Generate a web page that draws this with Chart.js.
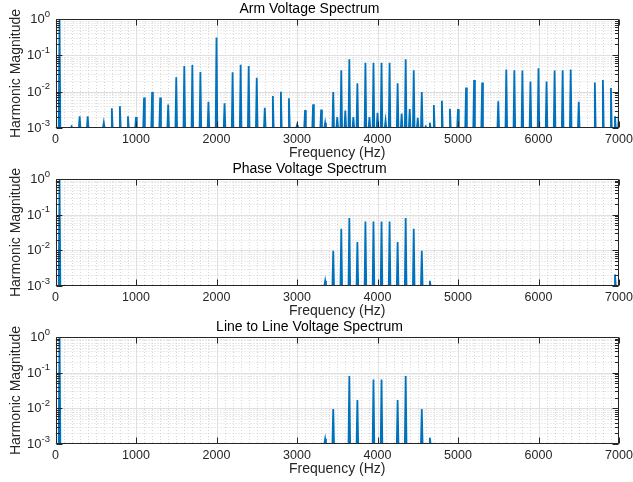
<!DOCTYPE html>
<html>
<head>
<meta charset="utf-8">
<script src="https://cdn.jsdelivr.net/npm/chart.js@4.4.1/dist/chart.umd.min.js"></script>
<style>
    html, body { margin: 0; padding: 0; background: #ffffff; }
    #Figure { position: relative; width: 633px; height: 482px; overflow: hidden; }
    canvas { position: absolute; left: 0; }
</style>
</head>
<body>
<div id="Figure">
    <canvas id="ArmCanvas"   width="633" height="162" style="top:0px"></canvas>
    <canvas id="PhaseCanvas" width="633" height="160" style="top:160px"></canvas>
    <canvas id="LineCanvas"  width="633" height="160" style="top:318px"></canvas>
</div>
<script>
// Axis ticks
const xTickValues    = [0, 1000, 2000, 3000, 4000, 5000, 6000, 7000];
const xTickLabels    = ['0', '1000', '2000', '3000', '4000', '5000', '6000', '7000'];
const yTickValues    = [0.001, 0.01, 0.1, 1];
const yTickBase      = '10';
const yTickExponents = ['-3', '-2', '-1', '0'];

// Arm voltage spectrum (Hz / magnitude)
const armFrequencies = [50, 200, 300, 400, 600, 700, 800, 900, 1000, 1100, 1200, 1300, 1400, 1500, 1600, 1700, 1800, 1900,
    2000, 2100, 2200, 2300, 2400, 2500, 2600, 2700, 2800, 2900, 3000, 3100, 3200, 3300, 3350, 3450, 3500, 3550, 3600,
    3650, 3700, 3750, 3850, 3900, 3950, 4000, 4050, 4100, 4150, 4250, 4300, 4350, 4400, 4450, 4500, 4550, 4600, 4650,
    4700, 4800, 4900, 5000, 5100, 5200, 5300, 5500, 5600, 5700, 5800, 5900, 6000, 6100, 6200, 6300, 6400, 6500, 6700,
    6800, 6900, 6950, 7000];
const armMagnitudes  = [1, 0.0011, 0.0021, 0.0021, 0.0014, 0.0035, 0.004, 0.0021, 0.002, 0.0069, 0.0098, 0.0069, 0.0044, 0.025, 0.051, 0.054, 0.035, 0.0053,
    0.31, 0.0048, 0.034, 0.055, 0.051, 0.024, 0.0036, 0.0076, 0.010, 0.0066, 0.0012, 0.0031, 0.0045, 0.0032, 0.0014, 0.0098, 0.002, 0.039, 0.003,
    0.078, 0.002, 0.017, 0.062, 0.002, 0.062, 0.0026, 0.062, 0.0016, 0.062, 0.017, 0.0025, 0.078, 0.0033, 0.039, 0.0019, 0.0098, 0.0011, 0.0014,
    0.0043, 0.0056, 0.0034, 0.0033, 0.013, 0.021, 0.018, 0.0054, 0.041, 0.039, 0.038, 0.019, 0.044, 0.019, 0.038, 0.039, 0.041, 0.0053, 0.018,
    0.021, 0.0127, 0.0021, 0.003];

// Phase voltage spectrum
const phaseFrequencies = [50, 3350, 3450, 3550, 3650, 3750, 3850, 3950, 4050, 4150, 4250, 4350, 4450, 4550, 4650, 6950];
const phaseMagnitudes  = [1, 0.0014, 0.0098, 0.040, 0.080, 0.017, 0.064, 0.064, 0.064, 0.064, 0.017, 0.080, 0.040, 0.0098, 0.0014, 0.0021];

// Line to line voltage spectrum
const lineFrequencies = [50, 3350, 3450, 3650, 3750, 3950, 4050, 4250, 4350, 4550, 4650];
const lineMagnitudes  = [1.73, 0.0014, 0.0095, 0.080, 0.017, 0.064, 0.064, 0.017, 0.080, 0.0095, 0.0015];

const floorLevel      = 0.001;   // spectrum floor sits on the bottom of the log axis
const spikeHalfWidth  = 10;      // Hz, one FFT bin on each side of a harmonic
const minorGridStep   = 100;     // Hz

const fontFamily = '"Liberation Sans", Arial, Helvetica, sans-serif';
const lineColor  = '#0072BD';
const axisColor  = '#262626';

function BuildSpectrum(frequencies, magnitudes)
{
    // Each harmonic becomes a narrow spike standing on the floor line
    const points = [{x: xTickValues[0], y: floorLevel}];
    for (let i = 0; i < frequencies.length; i++)
    {
        points.push({x: frequencies[i] - spikeHalfWidth, y: floorLevel});
        points.push({x: frequencies[i],                  y: magnitudes[i]});
        points.push({x: frequencies[i] + spikeHalfWidth, y: floorLevel});
    }
    points.push({x: xTickValues[xTickValues.length - 1], y: floorLevel});
    return points.sort((a, b) => a.x - b.x);
}

const FramePlugin =
{
    id: 'matlabFrame',
    beforeDatasetsDraw(chart)
    {
        const ctx   = chart.ctx;
        const area  = chart.chartArea;
        const xs    = chart.scales.x;
        const ys    = chart.scales.y;
        const xMin  = xTickValues[0];
        const xMax  = xTickValues[xTickValues.length - 1];

        ctx.save();
        ctx.lineWidth = 1;

        // minor grid, dotted
        ctx.strokeStyle = '#d6d6d6';
        ctx.setLineDash([1, 2]);
        ctx.beginPath();
        for (let f = xMin + minorGridStep; f < xMax; f += minorGridStep)
        {
            if (xTickValues.includes(f)) continue;
            const px = Math.round(xs.getPixelForValue(f)) + 0.5;
            ctx.moveTo(px, area.top);
            ctx.lineTo(px, area.bottom);
        }
        for (let d = 0; d < yTickValues.length - 1; d++)
        {
            for (let k = 2; k <= 9; k++)
            {
                const py = Math.round(ys.getPixelForValue(yTickValues[d] * k)) + 0.5;
                ctx.moveTo(area.left, py);
                ctx.lineTo(area.right, py);
            }
        }
        ctx.stroke();

        // major grid
        ctx.setLineDash([]);
        ctx.strokeStyle = '#e0e0e0';
        ctx.beginPath();
        xTickValues.slice(1, -1).forEach(v =>
        {
            const px = Math.round(xs.getPixelForValue(v)) + 0.5;
            ctx.moveTo(px, area.top);
            ctx.lineTo(px, area.bottom);
        });
        yTickValues.slice(1, -1).forEach(v =>
        {
            const py = Math.round(ys.getPixelForValue(v)) + 0.5;
            ctx.moveTo(area.left, py);
            ctx.lineTo(area.right, py);
        });
        ctx.stroke();
        ctx.restore();
    },
    afterDatasetsDraw(chart)
    {
        const ctx   = chart.ctx;
        const area  = chart.chartArea;
        const xs    = chart.scales.x;
        const ys    = chart.scales.y;
        const major = 6;
        const minor = 3.5;

        ctx.save();
        ctx.lineWidth   = 1;
        ctx.strokeStyle = axisColor;
        ctx.beginPath();

        const l = Math.round(area.left) + 0.5, r = Math.round(area.right) - 0.5;
        const t = Math.round(area.top) + 0.5,  b = Math.round(area.bottom) - 0.5;
        ctx.rect(l, t, r - l, b - t);

        // inward ticks, top and bottom
        xTickValues.forEach(v =>
        {
            const px = Math.round(xs.getPixelForValue(v)) + 0.5;
            ctx.moveTo(px, b); ctx.lineTo(px, b - major);
            ctx.moveTo(px, t); ctx.lineTo(px, t + major);
        });
        // inward ticks, left and right, with log minor ticks
        for (let d = 0; d < yTickValues.length; d++)
        {
            const py = Math.round(ys.getPixelForValue(yTickValues[d])) + 0.5;
            ctx.moveTo(l, py); ctx.lineTo(l + major, py);
            ctx.moveTo(r, py); ctx.lineTo(r - major, py);
            if (d === yTickValues.length - 1) break;
            for (let k = 2; k <= 9; k++)
            {
                const pm = Math.round(ys.getPixelForValue(yTickValues[d] * k)) + 0.5;
                ctx.moveTo(l, pm); ctx.lineTo(l + minor, pm);
                ctx.moveTo(r, pm); ctx.lineTo(r - minor, pm);
            }
        }
        ctx.stroke();

        // decade labels as 10 with a raised exponent, like the original
        ctx.fillStyle    = axisColor;
        ctx.textAlign    = 'right';
        ctx.textBaseline = 'middle';
        const labelRight = area.left - 5.5;
        yTickValues.forEach((v, i) =>
        {
            const py = ys.getPixelForValue(v);
            ctx.font = '9.5px ' + fontFamily;
            const expWidth = ctx.measureText(yTickExponents[i]).width;
            ctx.fillText(yTickExponents[i], labelRight, py - 5);
            ctx.font = '13px ' + fontFamily;
            ctx.fillText(yTickBase, labelRight - expWidth, py + 0.5);
        });
        ctx.restore();
    }
};

function MakeChart(canvasId, titleText, frequencies, magnitudes)
{
    const ctx = document.getElementById(canvasId).getContext('2d');

    return new Chart(ctx,
    {
        type: 'line',
        data:
        {
            datasets:
            [
                {
                    data: BuildSpectrum(frequencies, magnitudes),
                    borderColor: lineColor,
                    borderWidth: 1.8,
                    pointRadius: 0,
                    tension: 0,
                    fill: false
                }
            ]
        },
        options:
        {
            responsive: false,
            animation: false,
            events: [],
            layout: { padding: { top: 0, right: 14, bottom: 0, left: 0 } },
            plugins:
            {
                legend:  { display: false },
                tooltip: { enabled: false },
                title:
                {
                    display: true,
                    text: titleText,
                    color: '#000000',
                    font: { family: fontFamily, size: 14, weight: 'normal', lineHeight: 1.2 },
                    padding: { top: 1, bottom: 1.2 }
                }
            },
            scales:
            {
                x:
                {
                    type: 'linear',
                    min: xTickValues[0],
                    max: xTickValues[xTickValues.length - 1],
                    afterBuildTicks: s => { s.ticks = xTickValues.map(v => ({value: v})); },
                    afterFit: s => { s.height = 34; s.paddingLeft = 0; s.paddingRight = 0; },
                    ticks:
                    {
                        color: axisColor,
                        font: { family: fontFamily, size: 12.5 },
                        padding: 4,
                        maxRotation: 0,
                        autoSkip: false,
                        callback: (value, index) => xTickLabels[index]
                    },
                    grid:   { display: false, drawTicks: false },
                    border: { display: false },
                    title:
                    {
                        display: true,
                        text: 'Frequency (Hz)',
                        color: axisColor,
                        font: { family: fontFamily, size: 14, lineHeight: 1.2 },
                        padding: { top: 0, bottom: 0 }
                    }
                },
                y:
                {
                    type: 'logarithmic',
                    min: yTickValues[0],
                    max: yTickValues[yTickValues.length - 1],
                    afterBuildTicks: s => { s.ticks = yTickValues.map(v => ({value: v})); },
                    afterFit: s => { s.width = 55.5; s.paddingTop = 0; s.paddingBottom = 0; },
                    ticks:  { display: false },
                    grid:   { display: false, drawTicks: false },
                    border: { display: false },
                    title:
                    {
                        display: true,
                        text: 'Harmonic Magnitude',
                        color: axisColor,
                        font: { family: fontFamily, size: 14, lineHeight: 1.2 },
                        padding: { top: 8, bottom: 0 }
                    }
                }
            }
        },
        plugins: [FramePlugin]
    });
}

Initialize();

function Initialize()
{
    MakeChart('ArmCanvas',   'Arm Voltage Spectrum',           armFrequencies,   armMagnitudes);
    MakeChart('PhaseCanvas', 'Phase Voltage Spectrum',         phaseFrequencies, phaseMagnitudes);
    MakeChart('LineCanvas',  'Line to Line Voltage Spectrum',  lineFrequencies,  lineMagnitudes);
}
</script>
</body>
</html>
